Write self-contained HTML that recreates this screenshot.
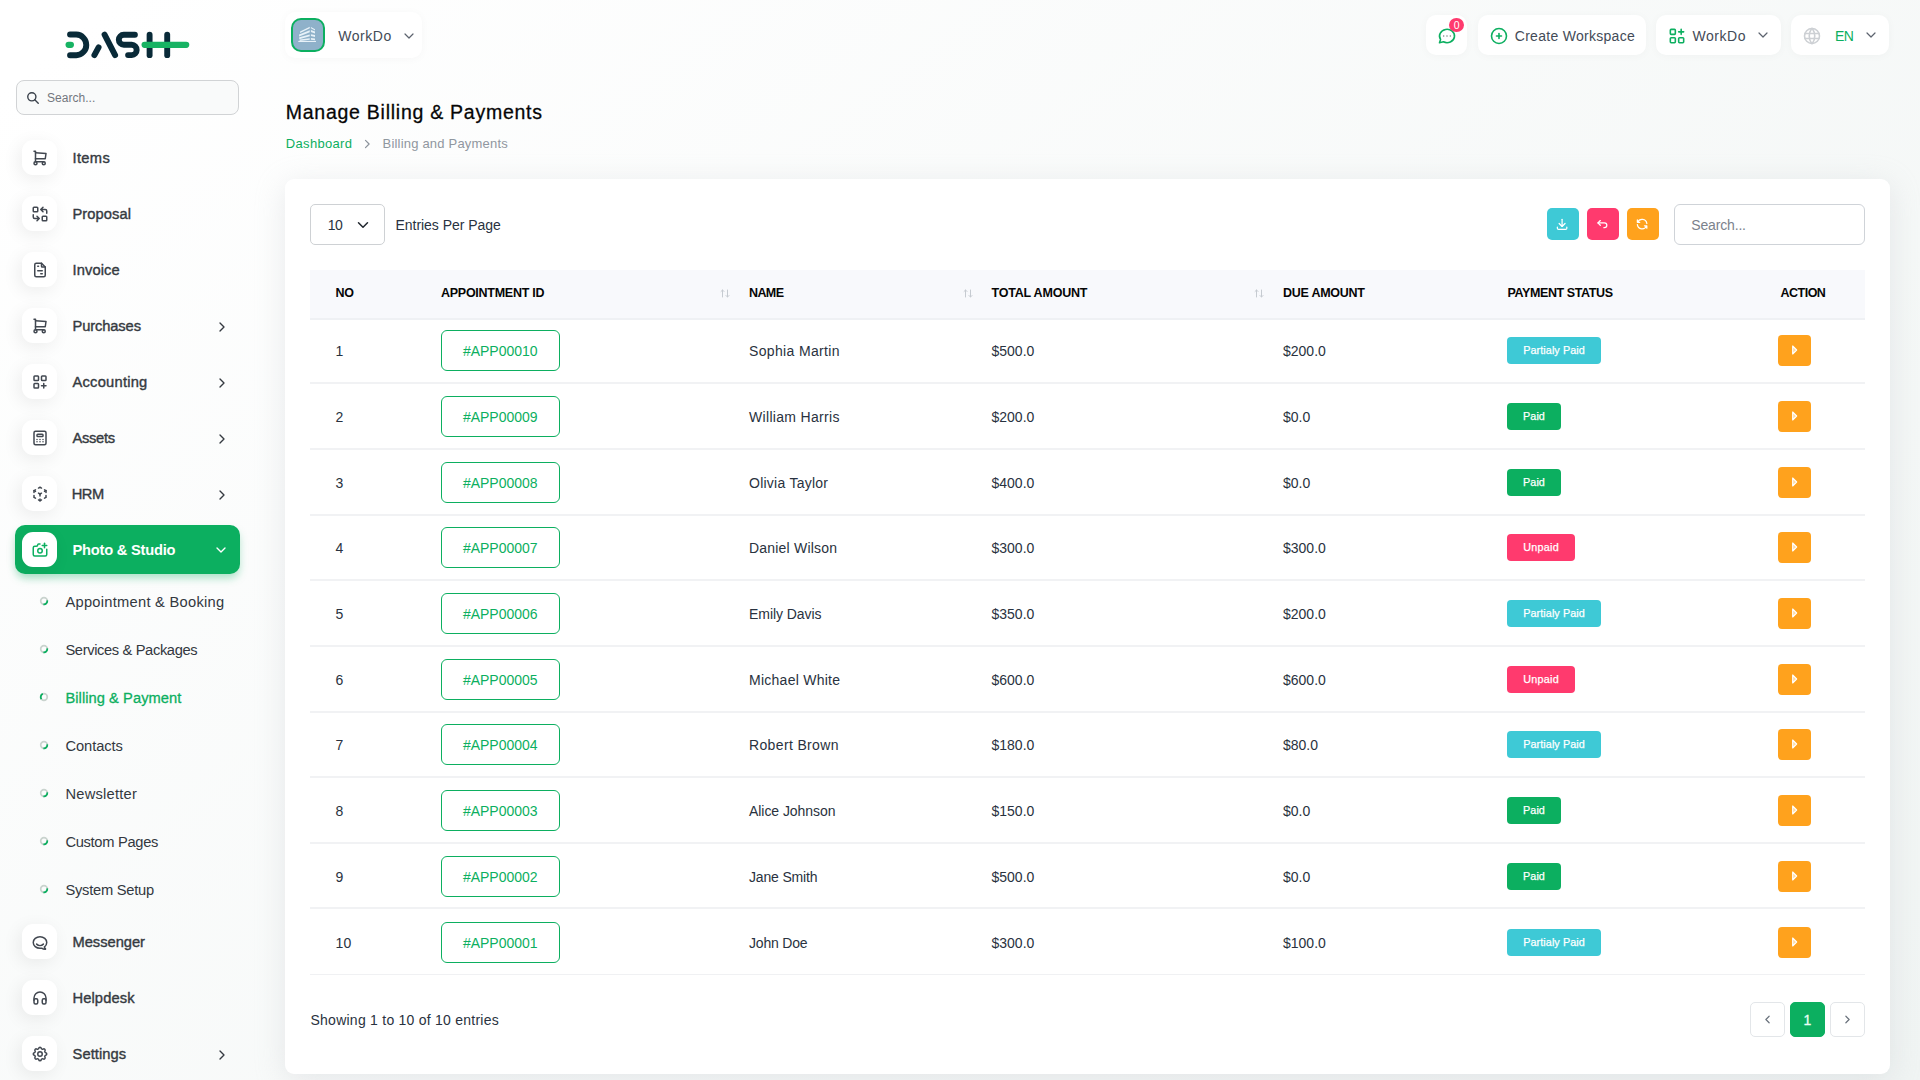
<!DOCTYPE html>
<html lang="en">
<head>
<meta charset="utf-8">
<title>Manage Billing &amp; Payments</title>
<style>
*{box-sizing:border-box;margin:0;padding:0}
html,body{width:1920px;height:1080px;overflow:hidden}
body{font-family:"Liberation Sans",sans-serif;font-size:14px;color:#293240;
 background:linear-gradient(141.55deg,rgba(240,244,243,0) 3.46%,#f0f4f3 99.86%),#ffffff;position:relative}
svg{display:block}
.abs{position:absolute}
.t{position:absolute;white-space:pre;line-height:20px;height:20px}
/* sidebar */
.sb-search{position:absolute;left:16px;top:80px;width:223px;height:35px;border:1px solid #d1d3d5;border-radius:8px;background:#f9fafa}
.sb-search svg{position:absolute;left:9.2px;top:10.3px}
.mi{position:absolute;left:15px;width:225px;height:49px;border-radius:10px}
.mi.active{background:#0caf60;box-shadow:0 5px 9px -1px rgba(12,175,96,.35)}
.ic{position:absolute;left:22px;width:35px;height:35px;border-radius:11px;background:#fff;box-shadow:-3px 4px 18px rgba(0,0,0,.07)}
.ic svg{position:absolute;left:9.1px;top:9.4px}
/* header */
.pill{position:absolute;background:#fff;border-radius:10px;box-shadow:0 1px 10px rgba(0,0,0,.03)}
/* card */
.card{position:absolute;left:285px;top:179px;width:1605px;height:895px;background:#fff;border-radius:9px;box-shadow:0 6px 30px rgba(186,189,197,.3)}
.sel{position:absolute;left:310px;top:204px;width:75px;height:41px;border:1px solid #ced1d4;border-radius:5px;background:#fff}
.tb{position:absolute;top:208px;width:32px;height:32px;border-radius:5px}
.srch{position:absolute;left:1674px;top:204px;width:191px;height:41px;border:1px solid #cfd3d8;border-radius:6px;background:#fff}
.th{position:absolute;left:310px;top:270px;width:1555px;height:50px;background:#f8f9fc;border-bottom:2px solid #eff1f4}
.ln{position:absolute;left:310px;width:1555px;height:2px;margin-top:-1px;background:#f1f2f4}
.id{position:absolute;left:441px;width:119px;height:41px;border:1px solid #0caf60;border-radius:6px}
.bd{position:absolute;left:1507px;height:26.4px;border-radius:4px}
.act{position:absolute;left:1778px;width:33px;height:31px;border-radius:4px;background:#ffa21d}
.pg{position:absolute;top:1002px;width:35px;height:35px;border-radius:5px;border:1px solid #e3e6e9;background:#fff}
.pg.on{background:#0caf60;border-color:#0caf60}
</style>
</head>
<body>
<nav>
<svg class="abs" style="left:65px;top:31px" width="125" height="28" viewBox="0 0 125 28">
<g fill="none" stroke="#092a38" stroke-width="5.9" stroke-linecap="round" stroke-linejoin="round">
<path d="M5.05 3.55H11.27a10.33 10.33 0 0 1 0 20.65H5.05"/>
<path d="M29.4 24.2L33.6 16.3"/>
<path d="M39.56 3.55L50.1 24.2"/>
<path d="M69.9 3.77H58.76a4.96 4.96 0 0 0 0 9.92H66.7a5.2 5.2 0 0 1 0 10.39H63.1"/>
<path d="M84.6 3.65v20.5"/>
<path d="M102.2 3.65v20.5"/>
</g>
<g fill="none" stroke="#17b363" stroke-width="6.2" stroke-linecap="round">
<path d="M3.6 13.8h2.3"/>
<path d="M79.6 13.8h41.6"/>
</g>
</svg>
<div class="sb-search"><svg width="14" height="14" viewBox="0 0 24 24" fill="none" stroke="#3a414b" stroke-width="2.4" stroke-linecap="round" stroke-linejoin="round"><path d="M10 10m-7 0a7 7 0 1 0 14 0a7 7 0 1 0 -14 0"/><path d="M21 21l-6 -6"/></svg></div>
<span class="t" style="left:47.00px;top:88.24px;font-size:12px;color:#73777e;letter-spacing:0.034px;">Search...</span>
<div class="ic" style="top:140.0px"><svg width="18" height="18" viewBox="0 0 24 24" fill="none" stroke="#424851" stroke-width="2" stroke-linecap="round" stroke-linejoin="round"><path d="M6 19m-2 0a2 2 0 1 0 4 0a2 2 0 1 0 -4 0"/><path d="M17 19m-2 0a2 2 0 1 0 4 0a2 2 0 1 0 -4 0"/><path d="M17 17h-11v-14h-2"/><path d="M6 5l14 1l-1 7h-13"/></svg></div>
<span class="t" style="left:72.50px;top:147.91px;font-size:14.7px;color:#353a41;letter-spacing:0.332px;-webkit-text-stroke:0.38px #353a41;">Items</span>
<div class="ic" style="top:196.0px"><svg width="18" height="18" viewBox="0 0 24 24" fill="none" stroke="#424851" stroke-width="2" stroke-linecap="round" stroke-linejoin="round"><path d="M3 3m0 1a1 1 0 0 1 1 -1h4a1 1 0 0 1 1 1v4a1 1 0 0 1 -1 1h-4a1 1 0 0 1 -1 -1z"/><path d="M15 15m0 1a1 1 0 0 1 1 -1h4a1 1 0 0 1 1 1v4a1 1 0 0 1 -1 1h-4a1 1 0 0 1 -1 -1z"/><path d="M21 11v-3a2 2 0 0 0 -2 -2h-6l3 3m0 -6l-3 3"/><path d="M3 13v3a2 2 0 0 0 2 2h6l-3 -3m0 6l3 -3"/></svg></div>
<span class="t" style="left:72.50px;top:203.91px;font-size:14.7px;color:#353a41;letter-spacing:0.076px;-webkit-text-stroke:0.38px #353a41;">Proposal</span>
<div class="ic" style="top:252.0px"><svg width="18" height="18" viewBox="0 0 24 24" fill="none" stroke="#424851" stroke-width="2" stroke-linecap="round" stroke-linejoin="round"><path d="M14 3v4a1 1 0 0 0 1 1h4"/><path d="M17 21h-10a2 2 0 0 1 -2 -2v-14a2 2 0 0 1 2 -2h7l5 5v11a2 2 0 0 1 -2 2z"/><path d="M9 7l1 0"/><path d="M9 13l6 0"/><path d="M13 17l2 0"/></svg></div>
<span class="t" style="left:72.50px;top:259.91px;font-size:14.7px;color:#353a41;letter-spacing:0.117px;-webkit-text-stroke:0.38px #353a41;">Invoice</span>
<div class="ic" style="top:308.0px"><svg width="18" height="18" viewBox="0 0 24 24" fill="none" stroke="#424851" stroke-width="2" stroke-linecap="round" stroke-linejoin="round"><path d="M6 19m-2 0a2 2 0 1 0 4 0a2 2 0 1 0 -4 0"/><path d="M17 19m-2 0a2 2 0 1 0 4 0a2 2 0 1 0 -4 0"/><path d="M17 17h-11v-14h-2"/><path d="M6 5l14 1l-1 7h-13"/></svg></div>
<span class="t" style="left:72.50px;top:315.91px;font-size:14.7px;color:#353a41;letter-spacing:-0.113px;-webkit-text-stroke:0.38px #353a41;">Purchases</span>
<svg width="16" height="16" viewBox="0 0 24 24" fill="none" stroke="#353a41" stroke-width="2" stroke-linecap="round" stroke-linejoin="round" style="position:absolute;left:214.20px;top:318.80px"><path d="M9 6l6 6l-6 6"/></svg>
<div class="ic" style="top:364.0px"><svg width="18" height="18" viewBox="0 0 24 24" fill="none" stroke="#424851" stroke-width="2" stroke-linecap="round" stroke-linejoin="round"><path d="M4 4m0 1a1 1 0 0 1 1 -1h4a1 1 0 0 1 1 1v4a1 1 0 0 1 -1 1h-4a1 1 0 0 1 -1 -1z"/><path d="M14 4m0 1a1 1 0 0 1 1 -1h4a1 1 0 0 1 1 1v4a1 1 0 0 1 -1 1h-4a1 1 0 0 1 -1 -1z"/><path d="M4 14m0 1a1 1 0 0 1 1 -1h4a1 1 0 0 1 1 1v4a1 1 0 0 1 -1 1h-4a1 1 0 0 1 -1 -1z"/><path d="M14 17h6m-3 -3v6"/></svg></div>
<span class="t" style="left:72.50px;top:371.91px;font-size:14.7px;color:#353a41;letter-spacing:0.231px;-webkit-text-stroke:0.38px #353a41;">Accounting</span>
<svg width="16" height="16" viewBox="0 0 24 24" fill="none" stroke="#353a41" stroke-width="2" stroke-linecap="round" stroke-linejoin="round" style="position:absolute;left:214.20px;top:374.80px"><path d="M9 6l6 6l-6 6"/></svg>
<div class="ic" style="top:420.0px"><svg width="18" height="18" viewBox="0 0 24 24" fill="none" stroke="#424851" stroke-width="2" stroke-linecap="round" stroke-linejoin="round"><path d="M4 3m0 2a2 2 0 0 1 2 -2h12a2 2 0 0 1 2 2v14a2 2 0 0 1 -2 2h-12a2 2 0 0 1 -2 -2z"/><path d="M8 7m0 1a1 1 0 0 1 1 -1h6a1 1 0 0 1 1 1v1a1 1 0 0 1 -1 1h-6a1 1 0 0 1 -1 -1z"/><path d="M8 14l0 .01"/><path d="M12 14l0 .01"/><path d="M16 14l0 .01"/><path d="M8 17l0 .01"/><path d="M12 17l0 .01"/><path d="M16 17l0 .01"/></svg></div>
<span class="t" style="left:72.50px;top:427.91px;font-size:14.7px;color:#353a41;letter-spacing:-0.316px;-webkit-text-stroke:0.38px #353a41;">Assets</span>
<svg width="16" height="16" viewBox="0 0 24 24" fill="none" stroke="#353a41" stroke-width="2" stroke-linecap="round" stroke-linejoin="round" style="position:absolute;left:214.20px;top:430.80px"><path d="M9 6l6 6l-6 6"/></svg>
<div class="ic" style="top:476.0px"><svg width="18" height="18" viewBox="0 0 24 24" fill="none" stroke="#424851" stroke-width="2" stroke-linecap="round" stroke-linejoin="round"><path d="M6 17.6l-2 -1.1v-2.5"/><path d="M4 10v-2.5l2 -1.1"/><path d="M10 4.1l2 -1.1l2 1.1"/><path d="M18 6.4l2 1.1v2.5"/><path d="M20 14v2.5l-2 1.12"/><path d="M14 19.9l-2 1.1l-2 -1.1"/><path d="M12 12l2 -1.1"/><path d="M18 8.6l2 -1.1"/><path d="M12 12l0 2.5"/><path d="M12 18.5l0 2.5"/><path d="M12 12l-2 -1.12"/><path d="M6 8.6l-2 -1.1"/></svg></div>
<span class="t" style="left:71.82px;top:483.91px;font-size:14.7px;color:#353a41;letter-spacing:-0.550px;-webkit-text-stroke:0.38px #353a41;">HRM</span>
<svg width="16" height="16" viewBox="0 0 24 24" fill="none" stroke="#353a41" stroke-width="2" stroke-linecap="round" stroke-linejoin="round" style="position:absolute;left:214.20px;top:486.80px"><path d="M9 6l6 6l-6 6"/></svg>
<div class="mi active" style="top:524.9px"></div>
<div class="ic" style="top:531.9px"><svg width="18" height="18" viewBox="0 0 24 24" fill="none" stroke="#0caf60" stroke-width="2" stroke-linecap="round" stroke-linejoin="round"><path d="M12 13m-3 0a3 3 0 1 0 6 0a3 3 0 1 0 -6 0"/><path d="M5 7h2a2 2 0 0 0 2 -2a1 1 0 0 1 1 -1h2m9 7v7a2 2 0 0 1 -2 2h-14a2 2 0 0 1 -2 -2v-9a2 2 0 0 1 2 -2"/><path d="M15 6l6 0"/><path d="M18 3l0 6"/></svg></div>
<span class="t" style="left:72.50px;top:539.81px;font-size:14.7px;color:#fff;font-weight:700;letter-spacing:-0.236px;">Photo &amp; Studio</span>
<svg width="16" height="16" viewBox="0 0 24 24" fill="none" stroke="#fff" stroke-width="2" stroke-linecap="round" stroke-linejoin="round" style="position:absolute;left:212.50px;top:541.60px"><path d="M6 9l6 6l6 -6"/></svg>
<svg class="abs" style="left:39.05px;top:596.4px" width="10" height="10" viewBox="0 0 10 10"><circle cx="5" cy="5" r="3.3" fill="none" stroke="#c9d3ce" stroke-width="1.7"/><path d="M8.25 4.43A3.3 3.3 0 0 1 4.43 8.25" fill="none" stroke="#0caf60" stroke-width="1.8" transform="rotate(0 5 5)"/></svg>
<span class="t" style="left:65.40px;top:592.01px;font-size:14.7px;color:#33383f;letter-spacing:0.262px;">Appointment &amp; Booking</span>
<svg class="abs" style="left:39.05px;top:644.4px" width="10" height="10" viewBox="0 0 10 10"><circle cx="5" cy="5" r="3.3" fill="none" stroke="#c9d3ce" stroke-width="1.7"/><path d="M8.25 4.43A3.3 3.3 0 0 1 4.43 8.25" fill="none" stroke="#0caf60" stroke-width="1.8" transform="rotate(0 5 5)"/></svg>
<span class="t" style="left:65.40px;top:640.01px;font-size:14.7px;color:#33383f;letter-spacing:-0.363px;">Services &amp; Packages</span>
<svg class="abs" style="left:39.05px;top:692.4px" width="10" height="10" viewBox="0 0 10 10"><circle cx="5" cy="5" r="3.3" fill="none" stroke="#c9d3ce" stroke-width="1.7"/><path d="M8.25 4.43A3.3 3.3 0 0 1 4.43 8.25" fill="none" stroke="#0caf60" stroke-width="1.8" transform="rotate(150 5 5)"/></svg>
<span class="t" style="left:65.40px;top:688.01px;font-size:14.7px;color:#0caf60;letter-spacing:0.056px;-webkit-text-stroke:0.28px #0caf60;">Billing &amp; Payment</span>
<svg class="abs" style="left:39.05px;top:740.4px" width="10" height="10" viewBox="0 0 10 10"><circle cx="5" cy="5" r="3.3" fill="none" stroke="#c9d3ce" stroke-width="1.7"/><path d="M8.25 4.43A3.3 3.3 0 0 1 4.43 8.25" fill="none" stroke="#0caf60" stroke-width="1.8" transform="rotate(0 5 5)"/></svg>
<span class="t" style="left:65.40px;top:736.01px;font-size:14.7px;color:#33383f;letter-spacing:-0.067px;">Contacts</span>
<svg class="abs" style="left:39.05px;top:788.4px" width="10" height="10" viewBox="0 0 10 10"><circle cx="5" cy="5" r="3.3" fill="none" stroke="#c9d3ce" stroke-width="1.7"/><path d="M8.25 4.43A3.3 3.3 0 0 1 4.43 8.25" fill="none" stroke="#0caf60" stroke-width="1.8" transform="rotate(0 5 5)"/></svg>
<span class="t" style="left:65.40px;top:784.01px;font-size:14.7px;color:#33383f;letter-spacing:0.234px;">Newsletter</span>
<svg class="abs" style="left:39.05px;top:836.4px" width="10" height="10" viewBox="0 0 10 10"><circle cx="5" cy="5" r="3.3" fill="none" stroke="#c9d3ce" stroke-width="1.7"/><path d="M8.25 4.43A3.3 3.3 0 0 1 4.43 8.25" fill="none" stroke="#0caf60" stroke-width="1.8" transform="rotate(0 5 5)"/></svg>
<span class="t" style="left:65.40px;top:832.01px;font-size:14.7px;color:#33383f;letter-spacing:-0.304px;">Custom Pages</span>
<svg class="abs" style="left:39.05px;top:884.4px" width="10" height="10" viewBox="0 0 10 10"><circle cx="5" cy="5" r="3.3" fill="none" stroke="#c9d3ce" stroke-width="1.7"/><path d="M8.25 4.43A3.3 3.3 0 0 1 4.43 8.25" fill="none" stroke="#0caf60" stroke-width="1.8" transform="rotate(0 5 5)"/></svg>
<span class="t" style="left:65.40px;top:880.01px;font-size:14.7px;color:#33383f;letter-spacing:-0.244px;">System Setup</span>
<div class="ic" style="top:924.2px"><svg width="18" height="18" viewBox="0 0 24 24" fill="none" stroke="#424851" stroke-width="2" stroke-linecap="round" stroke-linejoin="round"><path d="M17.802 17.292s.077 -.055 .2 -.149c1.843 -1.425 3 -3.49 3 -5.789c0 -4.286 -4.03 -7.764 -9 -7.764c-4.97 0 -9 3.478 -9 7.764c0 4.288 4.03 7.646 9 7.646c.424 0 1.12 -.028 2.088 -.084c1.262 .82 3.104 1.493 4.716 1.493c.499 0 .734 -.41 .414 -.828c-.486 -.596 -1.156 -1.551 -1.416 -2.29z"/><path d="M7.5 13.5c2.5 2.5 6.5 2.5 9 0"/></svg></div>
<span class="t" style="left:72.50px;top:932.11px;font-size:14.7px;color:#353a41;letter-spacing:-0.020px;-webkit-text-stroke:0.38px #353a41;">Messenger</span>
<div class="ic" style="top:980.0px"><svg width="18" height="18" viewBox="0 0 24 24" fill="none" stroke="#424851" stroke-width="2" stroke-linecap="round" stroke-linejoin="round"><path d="M4 13m0 2a2 2 0 0 1 2 -2h1a2 2 0 0 1 2 2v3a2 2 0 0 1 -2 2h-1a2 2 0 0 1 -2 -2z"/><path d="M15 13m0 2a2 2 0 0 1 2 -2h1a2 2 0 0 1 2 2v3a2 2 0 0 1 -2 2h-1a2 2 0 0 1 -2 -2z"/><path d="M4 15v-3a8 8 0 0 1 16 0v3"/></svg></div>
<span class="t" style="left:72.50px;top:987.91px;font-size:14.7px;color:#353a41;letter-spacing:0.109px;-webkit-text-stroke:0.38px #353a41;">Helpdesk</span>
<div class="ic" style="top:1035.8px"><svg width="18" height="18" viewBox="0 0 24 24" fill="none" stroke="#424851" stroke-width="2" stroke-linecap="round" stroke-linejoin="round"><path d="M10.325 4.317c.426 -1.756 2.924 -1.756 3.35 0a1.724 1.724 0 0 0 2.573 1.066c1.543 -.94 3.31 .826 2.37 2.37a1.724 1.724 0 0 0 1.065 2.572c1.756 .426 1.756 2.924 0 3.35a1.724 1.724 0 0 0 -1.066 2.573c.94 1.543 -.826 3.31 -2.37 2.37a1.724 1.724 0 0 0 -2.572 1.065c-.426 1.756 -2.924 1.756 -3.35 0a1.724 1.724 0 0 0 -2.573 -1.066c-1.543 .94 -3.31 -.826 -2.37 -2.37a1.724 1.724 0 0 0 -1.065 -2.572c-1.756 -.426 -1.756 -2.924 0 -3.35a1.724 1.724 0 0 0 1.066 -2.573c-.94 -1.543 .826 -3.31 2.37 -2.37c1 .608 2.296 .07 2.572 -1.065z"/><path d="M9 12a3 3 0 1 0 6 0a3 3 0 0 0 -6 0"/></svg></div>
<span class="t" style="left:72.50px;top:1043.71px;font-size:14.7px;color:#353a41;letter-spacing:0.089px;-webkit-text-stroke:0.38px #353a41;">Settings</span>
<svg width="16" height="16" viewBox="0 0 24 24" fill="none" stroke="#353a41" stroke-width="2" stroke-linecap="round" stroke-linejoin="round" style="position:absolute;left:214.20px;top:1046.60px"><path d="M9 6l6 6l-6 6"/></svg>
</nav>
<header>
<div class="pill" style="left:285px;top:12px;width:137px;height:46px">
<div class="abs" style="left:6px;top:6px;width:34px;height:34px;border:2px solid #0caf60;border-radius:10px;background:#8fb1ca;overflow:hidden">
<svg class="abs" style="left:0;top:0" width="30" height="30" viewBox="0 0 30 30"><g fill="#eef6fc" opacity=".93"><path d="M7.06 11.5 16.78 6.83v1.48L7.06 12.98z"/><path d="M6.08 14.42 16.78 10.14v2.02L6.08 16.44z"/><path d="M6.28 17.22 16.78 14.42v1.94L6.28 19.16z"/><path d="M6.67 19.47 16.78 18.19v1.63L6.67 21.1z"/><path d="M5.3 20.9h17.7v1.1H5.3z"/><path d="M17.94 7.03 22.03 9.24v1.17L17.94 8.19z"/><path d="M17.94 10.02 22.03 11.58v1.94L17.94 11.97z"/><path d="M17.94 14.14 22.03 15.12v1.94L17.94 16.09z"/><path d="M17.94 18.03 22.03 18.42v1.75L17.94 19.78z"/></g></svg>
</div></div>
<span class="t" style="left:338.30px;top:25.85px;font-size:14px;color:#434b57;letter-spacing:0.537px;">WorkDo</span>
<svg width="16" height="16" viewBox="0 0 24 24" fill="none" stroke="#5c636e" stroke-width="1.8" stroke-linecap="round" stroke-linejoin="round" style="position:absolute;left:400.80px;top:27.60px"><path d="M6 9l6 6l6 -6"/></svg>
<div class="pill" style="left:1426px;top:15px;width:41px;height:40px"></div>
<svg width="20" height="20" viewBox="0 0 24 24" fill="none" stroke="#0caf60" stroke-width="1.9" stroke-linecap="round" stroke-linejoin="round" style="position:absolute;left:1437.20px;top:26.20px"><path d="M3 20l1.3 -3.9a9 8 0 1 1 3.4 2.9l-4.7 1"/></svg>
<svg width="20" height="20" viewBox="0 0 24 24" fill="none" stroke="#7b8984" stroke-width="1.9" stroke-linecap="round" stroke-linejoin="round" style="position:absolute;left:1437.20px;top:26.20px"><path d="M12 12l0 .01"/><path d="M8 12l0 .01"/><path d="M16 12l0 .01"/></svg>
<div class="abs" style="left:1449px;top:17.6px;width:15px;height:14.2px;border-radius:50%;background:#ff3a6e"></div>
<span class="t" style="left:1453.68px;top:14.56px;font-size:10.5px;color:#fff;">0</span>
<div class="pill" style="left:1478px;top:15px;width:168px;height:40px"></div>
<svg width="20" height="20" viewBox="0 0 24 24" fill="none" stroke="#0caf60" stroke-width="1.9" stroke-linecap="round" stroke-linejoin="round" style="position:absolute;left:1489.40px;top:25.80px"><path d="M3 12a9 9 0 1 0 18 0a9 9 0 0 0 -18 0"/><path d="M9 12h6"/><path d="M12 9v6"/></svg>
<span class="t" style="left:1514.75px;top:25.90px;font-size:14px;color:#434b57;letter-spacing:0.287px;">Create Workspace</span>
<div class="pill" style="left:1656px;top:15px;width:125px;height:40px"></div>
<svg width="20" height="20" viewBox="0 0 24 24" fill="none" stroke="#0caf60" stroke-width="1.9" stroke-linecap="round" stroke-linejoin="round" style="position:absolute;left:1667.20px;top:26.10px"><path d="M4 14m0 1a1 1 0 0 1 1 -1h4a1 1 0 0 1 1 1v4a1 1 0 0 1 -1 1h-4a1 1 0 0 1 -1 -1z"/><path d="M14 14m0 1a1 1 0 0 1 1 -1h4a1 1 0 0 1 1 1v4a1 1 0 0 1 -1 1h-4a1 1 0 0 1 -1 -1z"/><path d="M4 4m0 1a1 1 0 0 1 1 -1h4a1 1 0 0 1 1 1v4a1 1 0 0 1 -1 1h-4a1 1 0 0 1 -1 -1z"/><path d="M14 7h6m-3 -3v6"/></svg>
<span class="t" style="left:1692.50px;top:25.90px;font-size:14px;color:#434b57;letter-spacing:0.537px;">WorkDo</span>
<svg width="16" height="16" viewBox="0 0 24 24" fill="none" stroke="#5c636e" stroke-width="1.8" stroke-linecap="round" stroke-linejoin="round" style="position:absolute;left:1755.10px;top:27.40px"><path d="M6 9l6 6l6 -6"/></svg>
<div class="pill" style="left:1791px;top:15px;width:98px;height:40px"></div>
<svg width="20" height="20" viewBox="0 0 24 24" fill="none" stroke="#cdd0d4" stroke-width="1.9" stroke-linecap="round" stroke-linejoin="round" style="position:absolute;left:1802.10px;top:26.00px"><path d="M3 12a9 9 0 1 0 18 0a9 9 0 0 0 -18 0"/><path d="M3.6 9h16.8"/><path d="M3.6 15h16.8"/><path d="M11.5 3a17 17 0 0 0 0 18"/><path d="M12.5 3a17 17 0 0 1 0 18"/></svg>
<span class="t" style="left:1835.00px;top:25.90px;font-size:14px;color:#0caf60;letter-spacing:-0.550px;">EN</span>
<svg width="16" height="16" viewBox="0 0 24 24" fill="none" stroke="#5c636e" stroke-width="1.8" stroke-linecap="round" stroke-linejoin="round" style="position:absolute;left:1863.00px;top:27.40px"><path d="M6 9l6 6l6 -6"/></svg>
</header>
<main>
<span class="t" style="left:285.80px;top:102.44px;font-size:19.5px;color:#060606;letter-spacing:0.739px;-webkit-text-stroke:0.28px #060606;">Manage Billing &amp; Payments</span>
<span class="t" style="left:285.80px;top:134.00px;font-size:13px;color:#0caf60;letter-spacing:0.324px;">Dashboard</span>
<svg class="abs" style="left:363.5px;top:138.6px" width="7" height="10" viewBox="0 0 7 10"><path d="M1.5 1.4 5.1 5 1.5 8.6" fill="none" stroke="#8b929b" stroke-width="1.2" stroke-linecap="round" stroke-linejoin="round"/></svg>
<span class="t" style="left:382.50px;top:134.00px;font-size:13px;color:#9097a0;letter-spacing:0.205px;">Billing and Payments</span>
<!-- card -->
<div class="card"></div>
<div class="sel"></div>
<span class="t" style="left:327.84px;top:214.85px;font-size:14px;color:#293240;letter-spacing:-0.550px;">10</span>
<svg class="abs" style="left:357.1px;top:218.7px" width="12" height="12" viewBox="0 0 16 16"><path d="m2 5 6 6 6-6" fill="none" stroke="#20262e" stroke-width="2" stroke-linecap="round" stroke-linejoin="round"/></svg>
<span class="t" style="left:395.50px;top:214.85px;font-size:14px;color:#293240;letter-spacing:-0.036px;">Entries Per Page</span>
<div class="tb" style="left:1547px;background:#3ec9d6"></div>
<svg width="14.2" height="14.2" viewBox="0 0 24 24" fill="none" stroke="#fff" stroke-width="2.1" stroke-linecap="round" stroke-linejoin="round" style="position:absolute;left:1555.20px;top:217.40px"><path d="M4 17v2a2 2 0 0 0 2 2h12a2 2 0 0 0 2 -2v-2"/><path d="M7 11l5 5l5 -5"/><path d="M12 4l0 12"/></svg>
<div class="tb" style="left:1587px;background:#ff3a6e"></div>
<svg width="14.2" height="14.2" viewBox="0 0 24 24" fill="none" stroke="#fff" stroke-width="2.1" stroke-linecap="round" stroke-linejoin="round" style="position:absolute;left:1595.20px;top:217.40px"><path d="M9 14l-4 -4l4 -4"/><path d="M5 10h11a4 4 0 1 1 0 8h-1"/></svg>
<div class="tb" style="left:1627px;background:#ffa21d"></div>
<svg width="14.2" height="14.2" viewBox="0 0 24 24" fill="none" stroke="#fff" stroke-width="2.1" stroke-linecap="round" stroke-linejoin="round" style="position:absolute;left:1635.20px;top:217.40px"><path d="M20 11a8.1 8.1 0 0 0 -15.5 -2m-.5 -4v4h4"/><path d="M4 13a8.1 8.1 0 0 0 15.5 2m.5 4v-4h-4"/></svg>
<div class="srch"></div>
<span class="t" style="left:1691.25px;top:214.85px;font-size:14px;color:#7b828c;letter-spacing:-0.160px;">Search...</span>
<div class="th"></div>
<span class="t" style="left:335.50px;top:282.67px;font-size:12.5px;color:#060606;font-weight:700;letter-spacing:-0.250px;">NO</span>
<span class="t" style="left:441.00px;top:282.67px;font-size:12.5px;color:#060606;font-weight:700;letter-spacing:-0.266px;">APPOINTMENT ID</span>
<span class="t" style="left:748.92px;top:282.67px;font-size:12.5px;color:#060606;font-weight:700;letter-spacing:-0.550px;">NAME</span>
<span class="t" style="left:991.50px;top:282.67px;font-size:12.5px;color:#060606;font-weight:700;letter-spacing:-0.195px;">TOTAL AMOUNT</span>
<span class="t" style="left:1283.00px;top:282.67px;font-size:12.5px;color:#060606;font-weight:700;letter-spacing:-0.252px;">DUE AMOUNT</span>
<span class="t" style="left:1507.50px;top:282.67px;font-size:12.5px;color:#060606;font-weight:700;letter-spacing:-0.398px;">PAYMENT STATUS</span>
<span class="t" style="left:1780.50px;top:282.67px;font-size:12.5px;color:#060606;font-weight:700;letter-spacing:-0.504px;">ACTION</span>
<svg class="abs" style="left:720px;top:288.5px" width="10" height="9" viewBox="0 0 10 9"><g fill="none" stroke="#c6cbd1" stroke-width="1" stroke-linecap="round" stroke-linejoin="round"><path d="M2.5 8v-7M1 2.5l1.5-1.5L4 2.5"/><path d="M7.5 1v7M6 6.5l1.5 1.5L9 6.5"/></g></svg>
<svg class="abs" style="left:962.5px;top:288.5px" width="10" height="9" viewBox="0 0 10 9"><g fill="none" stroke="#c6cbd1" stroke-width="1" stroke-linecap="round" stroke-linejoin="round"><path d="M2.5 8v-7M1 2.5l1.5-1.5L4 2.5"/><path d="M7.5 1v7M6 6.5l1.5 1.5L9 6.5"/></g></svg>
<svg class="abs" style="left:1254.3px;top:288.5px" width="10" height="9" viewBox="0 0 10 9"><g fill="none" stroke="#c6cbd1" stroke-width="1" stroke-linecap="round" stroke-linejoin="round"><path d="M2.5 8v-7M1 2.5l1.5-1.5L4 2.5"/><path d="M7.5 1v7M6 6.5l1.5 1.5L9 6.5"/></g></svg>
<div class="ln" style="top:383px"></div>
<span class="t" style="left:335.60px;top:341.40px;font-size:14px;color:#293240;">1</span>
<div class="id" style="top:330px"></div>
<span class="t" style="left:463.00px;top:341.40px;font-size:14px;color:#0caf60;letter-spacing:-0.029px;">#APP00010</span>
<span class="t" style="left:749.00px;top:341.40px;font-size:14px;color:#293240;letter-spacing:0.342px;">Sophia Martin</span>
<span class="t" style="left:991.50px;top:341.40px;font-size:14px;color:#293240;">$500.0</span>
<span class="t" style="left:1283.00px;top:341.40px;font-size:14px;color:#293240;">$200.0</span>
<div class="bd" style="top:337.4px;width:94px;background:#3ec9d6"></div>
<span class="t" style="left:1523.15px;top:340.01px;font-size:10.8px;color:#fff;letter-spacing:0.090px;-webkit-text-stroke:0.25px #fff;">Partialy Paid</span>
<div class="act" style="top:335px"></div>
<svg class="abs" style="left:1785.9px;top:342.3px" width="16" height="16" viewBox="0 0 24 24"><path d="M10 18l6 -6l-6 -6v12" fill="rgba(255,255,255,.6)" stroke="#fff" stroke-width="1.7" stroke-linecap="round" stroke-linejoin="round"/></svg>
<div class="ln" style="top:449px"></div>
<span class="t" style="left:335.60px;top:407.40px;font-size:14px;color:#293240;">2</span>
<div class="id" style="top:396px"></div>
<span class="t" style="left:463.00px;top:407.40px;font-size:14px;color:#0caf60;letter-spacing:-0.029px;">#APP00009</span>
<span class="t" style="left:749.00px;top:407.40px;font-size:14px;color:#293240;letter-spacing:0.321px;">William Harris</span>
<span class="t" style="left:991.50px;top:407.40px;font-size:14px;color:#293240;">$200.0</span>
<span class="t" style="left:1283.00px;top:407.40px;font-size:14px;color:#293240;">$0.0</span>
<div class="bd" style="top:403.4px;width:54px;background:#0caf60"></div>
<span class="t" style="left:1523.12px;top:406.01px;font-size:10.8px;color:#fff;letter-spacing:0.042px;-webkit-text-stroke:0.25px #fff;">Paid</span>
<div class="act" style="top:401px"></div>
<svg class="abs" style="left:1785.9px;top:408.3px" width="16" height="16" viewBox="0 0 24 24"><path d="M10 18l6 -6l-6 -6v12" fill="rgba(255,255,255,.6)" stroke="#fff" stroke-width="1.7" stroke-linecap="round" stroke-linejoin="round"/></svg>
<div class="ln" style="top:515px"></div>
<span class="t" style="left:335.60px;top:473.40px;font-size:14px;color:#293240;">3</span>
<div class="id" style="top:462px"></div>
<span class="t" style="left:463.00px;top:473.40px;font-size:14px;color:#0caf60;letter-spacing:-0.029px;">#APP00008</span>
<span class="t" style="left:749.00px;top:473.40px;font-size:14px;color:#293240;letter-spacing:0.250px;">Olivia Taylor</span>
<span class="t" style="left:991.50px;top:473.40px;font-size:14px;color:#293240;">$400.0</span>
<span class="t" style="left:1283.00px;top:473.40px;font-size:14px;color:#293240;">$0.0</span>
<div class="bd" style="top:469.4px;width:54px;background:#0caf60"></div>
<span class="t" style="left:1523.12px;top:472.01px;font-size:10.8px;color:#fff;letter-spacing:0.042px;-webkit-text-stroke:0.25px #fff;">Paid</span>
<div class="act" style="top:467px"></div>
<svg class="abs" style="left:1785.9px;top:474.3px" width="16" height="16" viewBox="0 0 24 24"><path d="M10 18l6 -6l-6 -6v12" fill="rgba(255,255,255,.6)" stroke="#fff" stroke-width="1.7" stroke-linecap="round" stroke-linejoin="round"/></svg>
<div class="ln" style="top:580px"></div>
<span class="t" style="left:335.60px;top:538.40px;font-size:14px;color:#293240;">4</span>
<div class="id" style="top:527px"></div>
<span class="t" style="left:463.00px;top:538.40px;font-size:14px;color:#0caf60;letter-spacing:-0.029px;">#APP00007</span>
<span class="t" style="left:749.00px;top:538.40px;font-size:14px;color:#293240;letter-spacing:0.201px;">Daniel Wilson</span>
<span class="t" style="left:991.50px;top:538.40px;font-size:14px;color:#293240;">$300.0</span>
<span class="t" style="left:1283.00px;top:538.40px;font-size:14px;color:#293240;">$300.0</span>
<div class="bd" style="top:534.4px;width:68px;background:#ff3a6e"></div>
<span class="t" style="left:1523.25px;top:537.01px;font-size:10.8px;color:#fff;letter-spacing:0.256px;-webkit-text-stroke:0.25px #fff;">Unpaid</span>
<div class="act" style="top:532px"></div>
<svg class="abs" style="left:1785.9px;top:539.3px" width="16" height="16" viewBox="0 0 24 24"><path d="M10 18l6 -6l-6 -6v12" fill="rgba(255,255,255,.6)" stroke="#fff" stroke-width="1.7" stroke-linecap="round" stroke-linejoin="round"/></svg>
<div class="ln" style="top:646px"></div>
<span class="t" style="left:335.60px;top:604.40px;font-size:14px;color:#293240;">5</span>
<div class="id" style="top:593px"></div>
<span class="t" style="left:463.00px;top:604.40px;font-size:14px;color:#0caf60;letter-spacing:-0.029px;">#APP00006</span>
<span class="t" style="left:749.00px;top:604.40px;font-size:14px;color:#293240;letter-spacing:-0.062px;">Emily Davis</span>
<span class="t" style="left:991.50px;top:604.40px;font-size:14px;color:#293240;">$350.0</span>
<span class="t" style="left:1283.00px;top:604.40px;font-size:14px;color:#293240;">$200.0</span>
<div class="bd" style="top:600.4px;width:94px;background:#3ec9d6"></div>
<span class="t" style="left:1523.15px;top:603.01px;font-size:10.8px;color:#fff;letter-spacing:0.090px;-webkit-text-stroke:0.25px #fff;">Partialy Paid</span>
<div class="act" style="top:598px"></div>
<svg class="abs" style="left:1785.9px;top:605.3px" width="16" height="16" viewBox="0 0 24 24"><path d="M10 18l6 -6l-6 -6v12" fill="rgba(255,255,255,.6)" stroke="#fff" stroke-width="1.7" stroke-linecap="round" stroke-linejoin="round"/></svg>
<div class="ln" style="top:712px"></div>
<span class="t" style="left:335.60px;top:670.40px;font-size:14px;color:#293240;">6</span>
<div class="id" style="top:659px"></div>
<span class="t" style="left:463.00px;top:670.40px;font-size:14px;color:#0caf60;letter-spacing:-0.029px;">#APP00005</span>
<span class="t" style="left:749.00px;top:670.40px;font-size:14px;color:#293240;letter-spacing:0.257px;">Michael White</span>
<span class="t" style="left:991.50px;top:670.40px;font-size:14px;color:#293240;">$600.0</span>
<span class="t" style="left:1283.00px;top:670.40px;font-size:14px;color:#293240;">$600.0</span>
<div class="bd" style="top:666.4px;width:68px;background:#ff3a6e"></div>
<span class="t" style="left:1523.25px;top:669.01px;font-size:10.8px;color:#fff;letter-spacing:0.256px;-webkit-text-stroke:0.25px #fff;">Unpaid</span>
<div class="act" style="top:664px"></div>
<svg class="abs" style="left:1785.9px;top:671.3px" width="16" height="16" viewBox="0 0 24 24"><path d="M10 18l6 -6l-6 -6v12" fill="rgba(255,255,255,.6)" stroke="#fff" stroke-width="1.7" stroke-linecap="round" stroke-linejoin="round"/></svg>
<div class="ln" style="top:777px"></div>
<span class="t" style="left:335.60px;top:735.40px;font-size:14px;color:#293240;">7</span>
<div class="id" style="top:724px"></div>
<span class="t" style="left:463.00px;top:735.40px;font-size:14px;color:#0caf60;letter-spacing:-0.029px;">#APP00004</span>
<span class="t" style="left:749.00px;top:735.40px;font-size:14px;color:#293240;letter-spacing:0.355px;">Robert Brown</span>
<span class="t" style="left:991.50px;top:735.40px;font-size:14px;color:#293240;">$180.0</span>
<span class="t" style="left:1283.00px;top:735.40px;font-size:14px;color:#293240;">$80.0</span>
<div class="bd" style="top:731.4px;width:94px;background:#3ec9d6"></div>
<span class="t" style="left:1523.15px;top:734.01px;font-size:10.8px;color:#fff;letter-spacing:0.090px;-webkit-text-stroke:0.25px #fff;">Partialy Paid</span>
<div class="act" style="top:729px"></div>
<svg class="abs" style="left:1785.9px;top:736.3px" width="16" height="16" viewBox="0 0 24 24"><path d="M10 18l6 -6l-6 -6v12" fill="rgba(255,255,255,.6)" stroke="#fff" stroke-width="1.7" stroke-linecap="round" stroke-linejoin="round"/></svg>
<div class="ln" style="top:843px"></div>
<span class="t" style="left:335.60px;top:801.40px;font-size:14px;color:#293240;">8</span>
<div class="id" style="top:790px"></div>
<span class="t" style="left:463.00px;top:801.40px;font-size:14px;color:#0caf60;letter-spacing:-0.029px;">#APP00003</span>
<span class="t" style="left:749.00px;top:801.40px;font-size:14px;color:#293240;letter-spacing:-0.056px;">Alice Johnson</span>
<span class="t" style="left:991.50px;top:801.40px;font-size:14px;color:#293240;">$150.0</span>
<span class="t" style="left:1283.00px;top:801.40px;font-size:14px;color:#293240;">$0.0</span>
<div class="bd" style="top:797.4px;width:54px;background:#0caf60"></div>
<span class="t" style="left:1523.12px;top:800.01px;font-size:10.8px;color:#fff;letter-spacing:0.042px;-webkit-text-stroke:0.25px #fff;">Paid</span>
<div class="act" style="top:795px"></div>
<svg class="abs" style="left:1785.9px;top:802.3px" width="16" height="16" viewBox="0 0 24 24"><path d="M10 18l6 -6l-6 -6v12" fill="rgba(255,255,255,.6)" stroke="#fff" stroke-width="1.7" stroke-linecap="round" stroke-linejoin="round"/></svg>
<div class="ln" style="top:908px"></div>
<span class="t" style="left:335.60px;top:867.40px;font-size:14px;color:#293240;">9</span>
<div class="id" style="top:856px"></div>
<span class="t" style="left:463.00px;top:867.40px;font-size:14px;color:#0caf60;letter-spacing:-0.029px;">#APP00002</span>
<span class="t" style="left:749.00px;top:867.40px;font-size:14px;color:#293240;letter-spacing:-0.172px;">Jane Smith</span>
<span class="t" style="left:991.50px;top:867.40px;font-size:14px;color:#293240;">$500.0</span>
<span class="t" style="left:1283.00px;top:867.40px;font-size:14px;color:#293240;">$0.0</span>
<div class="bd" style="top:863.4px;width:54px;background:#0caf60"></div>
<span class="t" style="left:1523.12px;top:866.01px;font-size:10.8px;color:#fff;letter-spacing:0.042px;-webkit-text-stroke:0.25px #fff;">Paid</span>
<div class="act" style="top:861px"></div>
<svg class="abs" style="left:1785.9px;top:868.3px" width="16" height="16" viewBox="0 0 24 24"><path d="M10 18l6 -6l-6 -6v12" fill="rgba(255,255,255,.6)" stroke="#fff" stroke-width="1.7" stroke-linecap="round" stroke-linejoin="round"/></svg>
<div class="ln" style="top:974px;height:1px;margin-top:0;background:#f0f1f3"></div>
<span class="t" style="left:335.60px;top:933.40px;font-size:14px;color:#293240;">10</span>
<div class="id" style="top:922px"></div>
<span class="t" style="left:463.00px;top:933.40px;font-size:14px;color:#0caf60;letter-spacing:-0.029px;">#APP00001</span>
<span class="t" style="left:749.00px;top:933.40px;font-size:14px;color:#293240;letter-spacing:-0.205px;">John Doe</span>
<span class="t" style="left:991.50px;top:933.40px;font-size:14px;color:#293240;">$300.0</span>
<span class="t" style="left:1283.00px;top:933.40px;font-size:14px;color:#293240;">$100.0</span>
<div class="bd" style="top:929.4px;width:94px;background:#3ec9d6"></div>
<span class="t" style="left:1523.15px;top:932.01px;font-size:10.8px;color:#fff;letter-spacing:0.090px;-webkit-text-stroke:0.25px #fff;">Partialy Paid</span>
<div class="act" style="top:927px"></div>
<svg class="abs" style="left:1785.9px;top:934.3px" width="16" height="16" viewBox="0 0 24 24"><path d="M10 18l6 -6l-6 -6v12" fill="rgba(255,255,255,.6)" stroke="#fff" stroke-width="1.7" stroke-linecap="round" stroke-linejoin="round"/></svg>
<span class="t" style="left:310.50px;top:1010.15px;font-size:14px;color:#293240;letter-spacing:0.247px;">Showing 1 to 10 of 10 entries</span>
<div class="pg" style="left:1750px"></div>
<svg width="13" height="13" viewBox="0 0 24 24" fill="none" stroke="#69717c" stroke-width="2.2" stroke-linecap="round" stroke-linejoin="round" style="position:absolute;left:1760.80px;top:1013.40px"><path d="M15 6l-6 6l6 6"/></svg>
<div class="pg on" style="left:1790px"></div>
<span class="t" style="left:1803.50px;top:1010.05px;font-size:14px;color:#eafff4;-webkit-text-stroke:0.3px #eafff4;">1</span>
<div class="pg" style="left:1830px"></div>
<svg width="13" height="13" viewBox="0 0 24 24" fill="none" stroke="#69717c" stroke-width="2.2" stroke-linecap="round" stroke-linejoin="round" style="position:absolute;left:1841.20px;top:1013.40px"><path d="M9 6l6 6l-6 6"/></svg>
</main>
</body>
</html>
